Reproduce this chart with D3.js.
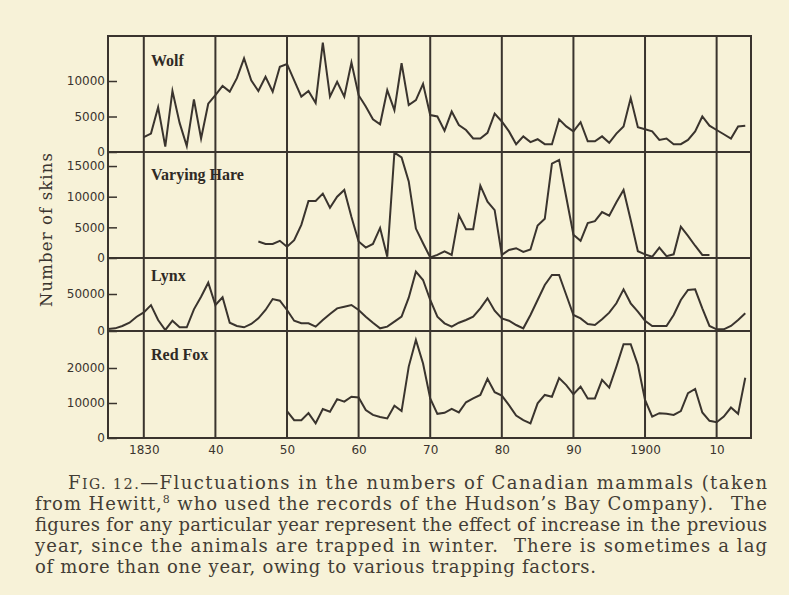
<!DOCTYPE html>
<html lang="en">
<head>
<meta charset="UTF-8">
<title>Fig. 12 - Fluctuations in the numbers of Canadian mammals</title>
<script src="https://d3js.org/d3.v7.min.js"></script>
<style>
  html, body { margin: 0; padding: 0; background: #f7f2d8; }
  svg { display: block; }
  .tick text { font-family: "DejaVu Sans", sans-serif; font-size: 12px; fill: #3a342e; }
  .tick line { stroke: #3a342e; stroke-width: 1.5; }
  .grid { stroke: #3a342e; stroke-width: 2; fill: none; }
  .series { stroke: #3a342e; stroke-width: 2; fill: none; stroke-linejoin: miter; stroke-miterlimit: 6; }
  .panel-name { font-family: "Liberation Serif", serif; font-weight: bold; font-size: 16px; fill: #2f2a25; }
  .ylabel { font-family: "DejaVu Serif", serif; font-size: 16.5px; fill: #3a342e; }
  .caption { font-family: "DejaVu Serif", serif; font-size: 18px; fill: #433d35; }
</style>
</head>
<body>
<svg id="chart" width="789" height="595"></svg>
<script>
// skins per year
const wolfStart = 1830;
const wolf = [2100, 2600, 6300, 750, 8600, 4100, 850, 7400, 1900, 6800,
  8000, 9300, 8500, 10400, 13200, 10100, 8600, 10600, 8500, 12000,
  12400, 10100, 7800, 8600, 6900, 15400, 7800, 9900, 7800, 12600,
  8000, 6400, 4600, 3900, 8700, 5900, 12500, 6600, 7300, 9600,
  5200, 5000, 3000, 5700, 3800, 3100, 1900, 1900, 2700, 5400,
  4300, 2900, 1100, 2200, 1400, 1800, 1100, 1100, 4600, 3600,
  2900, 4200, 1500, 1500, 2200, 1300, 2600, 3600, 7600, 3500,
  3200, 2900, 1700, 1900, 1100, 1100, 1700, 2900, 5000, 3700,
  3100, 2500, 1900, 3600, 3700];

const hareStart = 1846;
const hare = [2700, 2300, 2300, 2800,
  1850, 2900, 5400, 9300, 9300, 10500, 8200, 10000, 11100, 6700,
  2700, 1700, 2300, 4900, 200, 17200, 16400, 12500, 4800, 2400,
  100, 500, 1100, 500, 7000, 4700, 4700, 11800, 9200, 7800,
  500, 1300, 1600, 1000, 1400, 5300, 6400, 15400, 16000, 9900,
  3800, 2800, 5700, 6000, 7500, 6900, 9100, 11100, 6200, 1100,
  600, 200, 1700, 300, 600, 5100, 3600, 2000, 500, 500];

const lynxStart = 1825;
const lynx = [2700, 3600, 6800, 11200, 19300,
  25200, 35000, 14900, 1400, 13900, 5000, 5000, 29300, 46400, 65300,
  35100, 45500, 11200, 6800, 5000, 9500, 17100, 28400, 43200, 41000,
  28400, 13900, 10400, 10400, 5900, 14900, 23000, 30600, 32900, 35100,
  28400, 19400, 11200, 3600, 5900, 12600, 19400, 45000, 80200, 68900,
  41900, 19400, 10400, 5900, 11200, 14900, 19400, 30600, 44100, 27500,
  17100, 13900, 8100, 3600, 21600, 41900, 62200, 75700, 75700, 48600,
  21600, 17100, 9500, 8100, 15800, 24800, 37400, 56300, 37400, 26100,
  13900, 6800, 6800, 6800, 21600, 41900, 55400, 56300, 30600, 6800,
  2300, 2300, 6800, 14900, 23900];

const foxStart = 1850;
const fox = [7700, 5100, 5100, 7100, 4200, 8300, 7500, 11100, 10400, 11800,
  11600, 8000, 6600, 6000, 5600, 9200, 7700, 20400, 28000, 21300,
  11300, 6900, 7200, 8300, 7300, 10200, 11300, 12300, 16900, 13100,
  12100, 9400, 6400, 5100, 4200, 9900, 12300, 11800, 17100, 15100,
  12500, 14700, 11300, 11300, 16600, 14400, 20400, 26800, 26800, 20900,
  10900, 6100, 7100, 6900, 6600, 7700, 12800, 14000, 7300, 4900,
  4500, 6100, 8700, 6900, 17200];

const panelNames = ["Wolf", "Varying Hare", "Lynx", "Red Fox"];
const panelMax = [16340, 17290, 98650, 30570];
const wolfTicks = [0, 5000, 10000];
const hareTicks = [0, 5000, 10000, 15000];
const lynxTicks = [0, 50000];
const foxTicks = [0, 10000, 20000];
const decadeYears = [1830, 1840, 1850, 1860, 1870, 1880, 1890, 1900, 1910];
const decadeLabels = ["1830", "40", "50", "60", "70", "80", "90", "1900", "10"];
const yearDomain = [1825, 1914.8];

// layout
const svg = d3.select("#chart");
const frame = { left: 108, right: 751, top: 36, bottom: 438 };
const panelEdges = [36, 152, 258, 331, 438];
const nameBaselines = [66, 180, 281, 360];

const x = d3.scaleLinear().domain(yearDomain).range([frame.left, frame.right]);

const toPoints = (start, values) => values.map((v, i) => ({ year: start + i, value: v }));

const panels = [
  { name: panelNames[0], data: toPoints(wolfStart, wolf), ticks: wolfTicks },
  { name: panelNames[1], data: toPoints(hareStart, hare), ticks: hareTicks },
  { name: panelNames[2], data: toPoints(lynxStart, lynx), ticks: lynxTicks },
  { name: panelNames[3], data: toPoints(foxStart, fox), ticks: foxTicks }
];

panels.forEach((p, i) => {
  p.y = d3.scaleLinear().domain([0, panelMax[i]]).range([panelEdges[i + 1], panelEdges[i]]);
});

// frame, panel dividers and decade lines
svg.append("rect")
  .attr("class", "grid")
  .attr("x", frame.left).attr("y", frame.top)
  .attr("width", frame.right - frame.left)
  .attr("height", frame.bottom - frame.top);

svg.selectAll(".divider")
  .data(panelEdges.slice(1, -1))
  .enter().append("line")
  .attr("class", "grid")
  .attr("x1", frame.left).attr("x2", frame.right)
  .attr("y1", d => d).attr("y2", d => d);

svg.selectAll(".decade")
  .data(decadeYears)
  .enter().append("line")
  .attr("class", "grid")
  .attr("x1", d => x(d)).attr("x2", d => x(d))
  .attr("y1", frame.top).attr("y2", frame.bottom);

// y axes, one per panel
panels.forEach(p => {
  svg.append("g")
    .attr("transform", `translate(${frame.left},0)`)
    .call(d3.axisLeft(p.y).tickValues(p.ticks).tickFormat(d3.format("d"))
      .tickSizeInner(-9).tickSizeOuter(0).tickPadding(3))
    .call(g => g.select(".domain").remove());
});

// x axis labels
svg.append("g")
  .attr("transform", `translate(0,${frame.bottom})`)
  .call(d3.axisBottom(x).tickValues(decadeYears)
    .tickFormat((d, i) => decadeLabels[i]).tickSize(0).tickPadding(7))
  .call(g => g.select(".domain").remove());

// series
const line = p => d3.line().x(d => x(d.year)).y(d => p.y(d.value));
panels.forEach(p => {
  svg.append("path")
    .datum(p.data)
    .attr("class", "series")
    .attr("d", line(p));
});

// panel names
svg.selectAll(".panel-name")
  .data(panels)
  .enter().append("text")
  .attr("class", "panel-name")
  .attr("x", 151)
  .attr("y", (d, i) => nameBaselines[i])
  .text(d => d.name);

// y label
svg.append("text")
  .attr("class", "ylabel")
  .attr("transform", "translate(52,230) rotate(-90)")
  .attr("text-anchor", "middle")
  .attr("textLength", 154)
  .attr("lengthAdjust", "spacing")
  .text("Number of skins");

// caption
const cap = svg.append("g").attr("class", "caption");
const capLine = (xPos, yPos, width) => cap.append("text")
  .attr("x", xPos).attr("y", yPos)
  .attr("textLength", width)
  .attr("lengthAdjust", "spacing");

const l1 = capLine(68, 489, 699);
l1.append("tspan").text("F");
l1.append("tspan").attr("font-size", 14).text("IG. ");
l1.append("tspan").attr("font-size", 14.5).text("12.");
l1.append("tspan").text("—Fluctuations in the numbers of Canadian mammals (taken");

const l2 = capLine(35, 510, 732);
l2.append("tspan").text("from Hewitt,");
l2.append("tspan").attr("font-size", 11).attr("dy", -7).text("8");
l2.append("tspan").attr("dy", 7).text(" who used the records of the Hudson’s Bay Company).");
l2.append("tspan").attr("dx", 10).text(" The");

capLine(35, 531, 732).text("figures for any particular year represent the effect of increase in the previous");

const l4 = capLine(35, 552, 732);
l4.append("tspan").text("year, since the animals are trapped in winter.");
l4.append("tspan").attr("dx", 8).text(" There is sometimes a lag");

capLine(35, 573, 561).text("of more than one year, owing to various trapping factors.");
</script>
</body>
</html>
